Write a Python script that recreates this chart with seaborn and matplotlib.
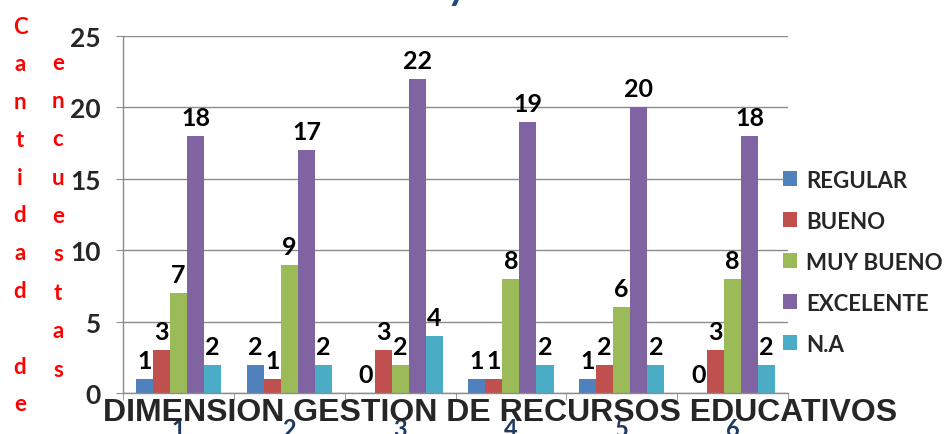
import numpy as np
import pandas as pd
import seaborn as sns
import matplotlib.pyplot as plt

grupos = ['1', '2', '3', '4', '5', '6']
niveles = ['REGULAR', 'BUENO', 'MUY BUENO', 'EXCELENTE', 'N.A']
regular = [1, 2, 0, 1, 1, 0]
bueno = [3, 1, 3, 1, 2, 3]
muy_bueno = [7, 9, 2, 8, 6, 8]
excelente = [18, 17, 22, 19, 20, 18]
na = [2, 2, 4, 2, 2, 2]
colores = ['#4F81BD', '#C0504D', '#9BBB59', '#8064A2', '#4BACC6']

df = pd.DataFrame({'grupo': grupos, 'REGULAR': regular, 'BUENO': bueno,
                   'MUY BUENO': muy_bueno, 'EXCELENTE': excelente, 'N.A': na})
df = df.melt(id_vars='grupo', var_name='nivel', value_name='cantidad')

sns.set_style('white')
plt.rcParams['font.family'] = ['Lato', 'DejaVu Sans']

fig = plt.figure(figsize=(9.48, 4.35), dpi=100)
ax = fig.add_axes([0.130, 0.094, 0.701, 0.821])

sns.barplot(data=df, x='grupo', y='cantidad', hue='nivel', hue_order=niveles,
            palette=colores, width=0.77, saturation=1, linewidth=0, ax=ax)

for c in ax.containers:
    ax.bar_label(c, fmt='%d', fontsize=18, fontweight='bold', padding=5, color='black')

gris = '#8C8C8C'
ax.set_ylim(0, 25)
ax.set_xlim(-0.5, 5.5)
ax.set_yticks([0, 5, 10, 15, 20, 25])
ax.yaxis.grid(True, color=gris, lw=1)
ax.set_axisbelow(True)
for s in ['top', 'right']:
    ax.spines[s].set_visible(False)
for s in ['left', 'bottom']:
    ax.spines[s].set_color(gris)
    ax.spines[s].set_linewidth(1)

ax.tick_params(axis='y', length=5, color=gris, labelsize=19, pad=11, left=True)
for t in ax.get_yticklabels():
    t.set_fontweight('bold')
ax.set_xticks(np.arange(-0.5, 6), minor=True)
ax.tick_params(axis='x', which='minor', length=5, color=gris, bottom=True)
ax.tick_params(axis='x', which='major', length=0, labelsize=17, pad=17, labelcolor='#1F3A60')
for t in ax.get_xticklabels():
    t.set_fontweight('bold')
ax.set_xlabel('')
ax.set_ylabel('')

handles, labels = ax.get_legend_handles_labels()
ax.legend(handles, labels, loc='center left', bbox_to_anchor=(0.826, 0.395),
          bbox_transform=fig.transFigure, frameon=False, borderaxespad=0, borderpad=0,
          prop=dict(weight='bold', size=16), handlelength=0.65, handleheight=0.65,
          handletextpad=0.4, labelspacing=0.9)

fig.text(500 / 948, 1 - 413 / 435, 'DIMENSION GESTION DE RECURSOS EDUCATIVOS',
         ha='center', va='center', fontsize=23, fontweight='bold',
         family=['Liberation Sans', 'DejaVu Sans'], zorder=10)

# titulo cortado arriba
fig.text(457 / 948, 1.0, 'y', ha='center', va='baseline', fontsize=28,
         fontweight='bold', color='#1F497D')

# texto vertical rojo
for i, ch in enumerate('Cantidad de'):
    fig.text(20 / 948, 1 - (27 + 37.8 * i) / 435, ch, ha='center', va='center',
             fontsize=16, fontweight='bold', color='red')
for i, ch in enumerate('encuestas'):
    fig.text(58 / 948, 1 - (63 + 38.4 * i) / 435, ch, ha='center', va='center',
             fontsize=16, fontweight='bold', color='red')

fig.savefig('out.png', dpi=100)
